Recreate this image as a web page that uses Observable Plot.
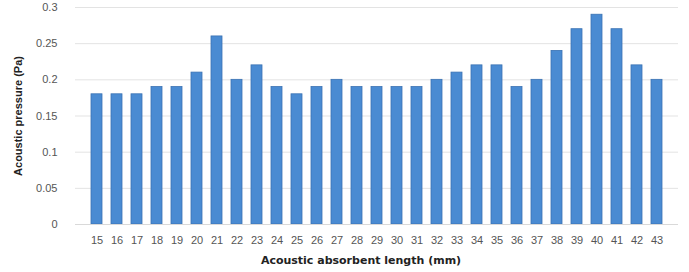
<!DOCTYPE html>
<html><head><meta charset="utf-8">
<script src="https://cdn.jsdelivr.net/npm/d3@7"></script>
<script src="https://cdn.jsdelivr.net/npm/@observablehq/plot@0.6"></script>
<style>body{margin:0;background:#fff}</style>
</head><body><div id="chart"></div>
<script>
const lengths = [15,16,17,18,19,20,21,22,23,24,25,26,27,28,29,30,31,32,33,34,35,36,37,38,39,40,41,42,43];
const pressures = [0.18,0.18,0.18,0.19,0.19,0.21,0.26,0.20,0.22,0.19,0.18,0.19,0.20,0.19,0.19,0.19,0.19,0.20,0.21,0.22,0.22,0.19,0.20,0.24,0.27,0.29,0.27,0.22,0.20];
const yTicks = [0,0.05,0.1,0.15,0.2,0.25,0.3];
const yTickLabels = ["0","0.05","0.1","0.15","0.2","0.25","0.3"];
const xTitle = "Acoustic absorbent length (mm)";
const yTitle = "Acoustic pressure (Pa)";

const data = lengths.map((l,i)=>({length:String(l), value:pressures[i]}));

const chart = Plot.plot({
  width: 689, height: 272,
  marginLeft: 75, marginRight: 11, marginTop: 7, marginBottom: 48,
  style: {fontFamily: "Liberation Sans, Arial, sans-serif", fontSize: "11px", color: "#555"},
  x: {domain: lengths.map(String), padding: 0.45, label: null},
  y: {domain: [0,0.3], label: null},
  marks: [
    Plot.ruleY(yTicks.slice(1), {stroke: "#e3e3e3", strokeWidth: 1}),
    Plot.barY(data, {x: "length", y: "value", fill: "#4a8bd2", stroke: "#3a72b3", strokeWidth: 0.8}),
    Plot.ruleY([0], {stroke: "#d9d9d9"}),
    Plot.axisY({ticks: yTicks, tickFormat: d=>yTickLabels[yTicks.indexOf(d)], tickSize: 0, tickPadding: 18, label: null, fill: "#555", fontSize: 11}),
    Plot.axisX({tickSize: 0, tickPadding: 12, label: null, fill: "#555", fontSize: 11}),
    Plot.text([yTitle], {frameAnchor: "left", dx: -57, rotate: -90, textAnchor: "middle", text: d=>d, fill: "#222", fontSize: 11, fontWeight: "bold"}),
    Plot.text([xTitle], {frameAnchor: "bottom", dx: -16, dy: 39, text: d=>d, fill: "#222", fontSize: 11, fontWeight: "bold", fontFamily: "DejaVu Sans"})
  ]
});
document.getElementById("chart").appendChild(chart);
</script></body></html>
